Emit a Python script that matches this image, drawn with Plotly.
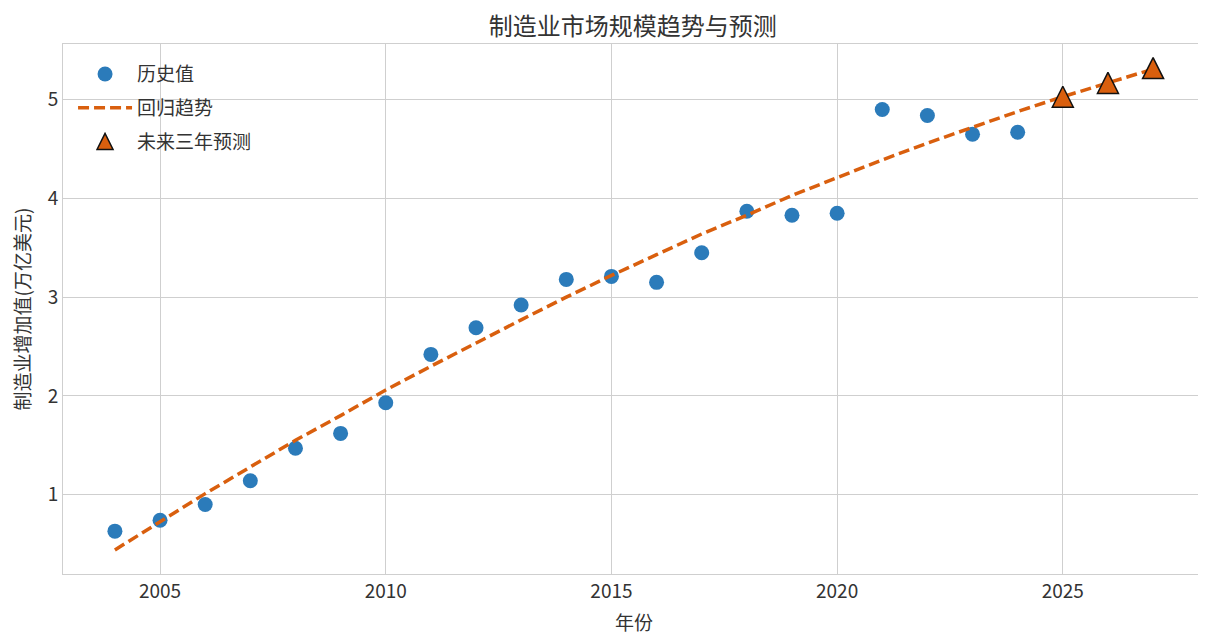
import plotly.graph_objects as go

years_hist = list(range(2004, 2025))
values_hist = [0.63, 0.74, 0.90, 1.14, 1.47, 1.62, 1.93, 2.42, 2.69, 2.92, 3.18,
               3.21, 3.15, 3.45, 3.87, 3.83, 3.85, 4.90, 4.84, 4.65, 4.67]

years_trend = list(range(2004, 2028))
values_trend = [0.44, 0.73, 1.01, 1.28, 1.55, 1.80, 2.06, 2.30, 2.54, 2.77, 3.00, 3.22,
                3.43, 3.64, 3.83, 4.03, 4.21, 4.39, 4.56, 4.72, 4.88, 5.03, 5.17, 5.31]

years_pred = [2025, 2026, 2027]
values_pred = [5.03, 5.17, 5.32]

x_ticks = [2005, 2010, 2015, 2020, 2025]
y_ticks = [1, 2, 3, 4, 5]

BLUE = "#2b7bba"
ORANGE = "#d95f0e"
FONT = "Noto Sans CJK SC, Noto Sans, sans-serif"
TXT = "#333333"
GRID = "#cfcfcf"

Y_RANGE = [0.196, 5.564]
PLOT_H = 530.0
TRI_SIZE = 21
# arrow-up marker has its tip at the data point; shift its axis so the triangle is centred
tri_shift = (TRI_SIZE / 2.0) * (Y_RANGE[1] - Y_RANGE[0]) / PLOT_H

fig = go.Figure()
fig.add_trace(go.Scatter(
    x=years_hist, y=values_hist, mode="markers", name="历史值",
    legendgroup="a",
    marker=dict(color=BLUE, size=15, line=dict(width=0)),
))
fig.add_trace(go.Scatter(
    x=years_trend, y=values_trend, mode="lines", name="回归趋势",
    legendgroup="b",
    line=dict(color=ORANGE, width=3.5, dash="11px,5px"),
))
fig.add_trace(go.Scatter(
    x=years_pred, y=values_pred, mode="markers", name="未来三年预测",
    legendgroup="c", yaxis="y2", showlegend=False,
    marker=dict(symbol="arrow-up", color=ORANGE, size=TRI_SIZE,
                line=dict(color="#111111", width=1.5)),
))
# legend entry for the forecast markers (centred icon)
fig.add_trace(go.Scatter(
    x=[None], y=[None], mode="markers", name="未来三年预测",
    legendgroup="c", showlegend=True,
    marker=dict(symbol="arrow-up", color=ORANGE, size=TRI_SIZE, standoff=8,
                line=dict(color="#111111", width=1.5)),
))

fig.update_layout(
    width=1206, height=634,
    margin=dict(l=55, r=9, t=36, b=68),
    paper_bgcolor="white", plot_bgcolor="white",
    font=dict(family=FONT, color=TXT, size=19),
    title=dict(text="制造业市场规模趋势与预测", x=0.518, xanchor="center",
               y=0.970, yanchor="middle", font=dict(size=24, color=TXT)),
    legend=dict(x=0.0088, y=0.979, xanchor="left", yanchor="top",
                bgcolor="rgba(255,255,255,0)", font=dict(size=19, color=TXT),
                tracegroupgap=6, traceorder="grouped", itemwidth=54),
    showlegend=True,
    yaxis2=dict(overlaying="y", range=[Y_RANGE[0] - tri_shift, Y_RANGE[1] - tri_shift],
                visible=False, showgrid=False, zeroline=False),
)
fig.update_xaxes(
    range=[2002.85, 2028.15], tickvals=x_ticks, ticktext=[str(v) for v in x_ticks],
    showgrid=True, gridcolor=GRID, gridwidth=1, zeroline=False,
    showline=True, linecolor=GRID, linewidth=1, mirror=True,
    ticks="", tickfont=dict(size=19, color=TXT), automargin=False,
    title=dict(text="年份", font=dict(size=19, color=TXT), standoff=14),
)
fig.layout.yaxis.update(
    range=Y_RANGE, tickvals=y_ticks, ticktext=[str(v) for v in y_ticks],
    showgrid=True, gridcolor=GRID, gridwidth=1, zeroline=False,
    showline=True, linecolor=GRID, linewidth=1, mirror=True,
    ticks="", tickfont=dict(size=19, color=TXT), automargin=False,
    title=dict(text="制造业增加值(万亿美元)", font=dict(size=19, color=TXT), standoff=12),
)

fig.write_html("out.html")
